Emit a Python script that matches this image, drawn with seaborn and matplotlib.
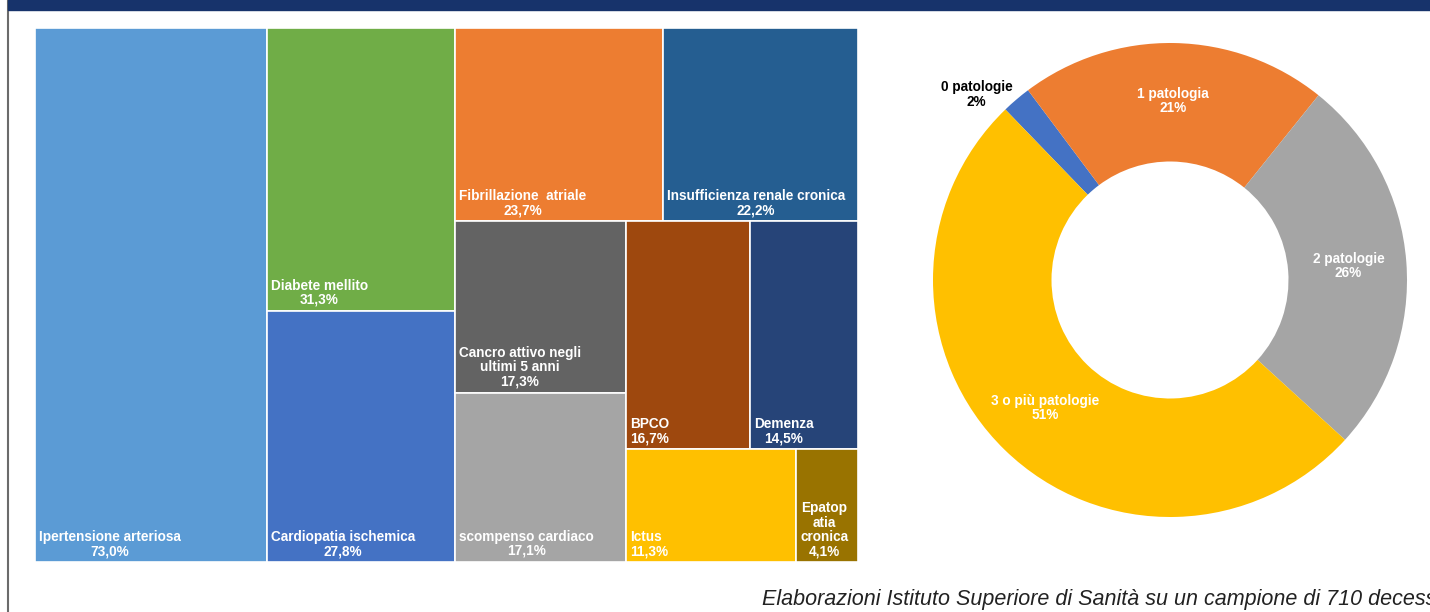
import numpy as np
import matplotlib
matplotlib.use("Agg")
import matplotlib.pyplot as plt
import seaborn as sns
from matplotlib.patches import Rectangle
from matplotlib.lines import Line2D

# Treemap data: pre-existing conditions (% of deaths)
conditions = ["Ipertensione arteriosa", "Diabete mellito", "Cardiopatia ischemica",
              "Fibrillazione  atriale", "Insufficienza renale cronica",
              "Cancro attivo negli\nultimi 5 anni", "scompenso cardiaco", "BPCO",
              "Demenza", "Ictus", "Epatop\natia\ncronica"]
cond_values = [73.0, 31.3, 27.8, 23.7, 22.2, 17.3, 17.1, 16.7, 14.5, 11.3, 4.1]
cond_colors = ["#5B9BD5", "#70AD47", "#4472C4", "#ED7D31", "#255E91", "#636363",
               "#A5A5A5", "#9E480E", "#264478", "#FFC000", "#997300"]

# Donut data: number of conditions
n_labels = ["0 patologie", "1 patologia", "2 patologie", "3 o più patologie"]
n_values = [2, 21, 26, 51]
n_colors = ["#4472C4", "#ED7D31", "#A5A5A5", "#FFC000"]

footer = "Elaborazioni Istituto Superiore di Sanità su un campione di 710 decessi"

# nesting of the treemap: 'h' = side by side, 'v' = stacked top to bottom
tree = ("h", [0, ("v", [1, 2]),
              ("v", [("h", [3, 4]),
                     ("h", [("v", [5, 6]),
                            ("v", [("h", [7, 8]), ("h", [9, 10])])])])])


def node_sum(node):
    if isinstance(node, int):
        return cond_values[node]
    return sum(node_sum(c) for c in node[1])


def layout(node, x, y, w, h, out):
    # y is the top edge, rectangles go downward
    if isinstance(node, int):
        out[node] = (x, y - h, w, h)
        return
    kind, kids = node
    total = node_sum(node)
    pos = 0.0
    for k in kids:
        frac = node_sum(k) / total
        if kind == "h":
            layout(k, x + pos * w, y, frac * w, h, out)
        else:
            layout(k, x, y - pos * h, w, frac * h, out)
        pos += frac


rects = {}
layout(tree, 0, 1, 1, 1, rects)

sns.set_style("white")
plt.rcParams["font.family"] = ["Liberation Sans", "DejaVu Sans"]

W, H = 1430, 612
fig = plt.figure(figsize=(W / 100, H / 100), dpi=100)

# ---- treemap ----
ax = fig.add_axes([35 / W, (H - 562) / H, 823 / W, 534 / H])
for i in range(len(conditions)):
    x0, y0, w, h = rects[i]
    ax.bar(x0, h, width=w, bottom=y0, align="edge", color=cond_colors[i],
           edgecolor="white", linewidth=1.2)
    lab = conditions[i] + "\n" + f"{cond_values[i]:.1f}".replace(".", ",") + "%"
    ax.annotate(lab, (x0, y0), xytext=(4, 4), textcoords="offset pixels",
                ha="left", va="bottom",
                multialignment="left" if conditions[i] == "Ictus" else "center",
                color="white", fontsize=9.8, fontweight="bold", linespacing=1.02)
ax.set_xlim(0, 1)
ax.set_ylim(0, 1)
ax.axis("off")

# ---- donut ----
cx, cy, R = 1170, H - 280, 237
ax2 = fig.add_axes([(cx - R) / W, (cy - R) / H, 2 * R / W, 2 * R / H])
wedges, _ = ax2.pie(n_values, colors=n_colors, startangle=134, counterclock=False,
                    wedgeprops=dict(width=0.5, edgecolor="none"))
for wdg, lab, v in zip(wedges, n_labels, n_values):
    mid = np.deg2rad((wdg.theta1 + wdg.theta2) / 2)
    txt = f"{lab}\n{v}%"
    if v < 5:
        ax2.annotate(txt, (np.cos(mid), np.sin(mid)), xytext=(-4, 5),
                     textcoords="offset pixels", ha="right", va="center",
                     multialignment="center", color="black", fontsize=9.8,
                     fontweight="bold", linespacing=1.02)
    else:
        ax2.text(0.755 * np.cos(mid), 0.755 * np.sin(mid), txt, ha="center",
                 va="center", color="white", fontsize=9.8, fontweight="bold",
                 linespacing=1.02)
ax2.set_xlim(-1, 1)
ax2.set_ylim(-1, 1)

# ---- frame, banner, footer ----
fig.patches.append(Rectangle((8 / W, 1 - 10 / H), 1, 10 / H, transform=fig.transFigure,
                             color="#17336B", zorder=5))
fig.lines.append(Line2D([8 / W, 8 / W], [0, 1], transform=fig.transFigure,
                        color="#6b6b6b", linewidth=1.5))
fig.text(762 / W, 1 - 600 / H, footer, ha="left", va="center", fontsize=15.5,
         style="italic", color="#222222")

fig.savefig("out.png", dpi=100)
